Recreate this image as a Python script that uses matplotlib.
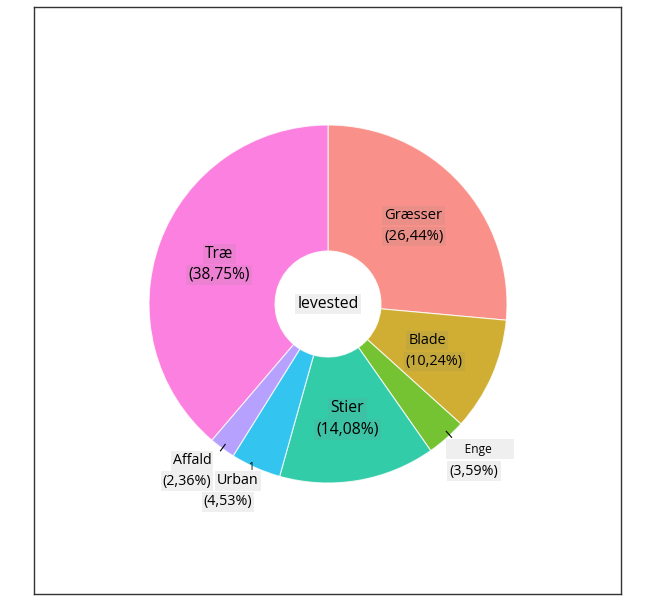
import numpy as np
import matplotlib
matplotlib.use("Agg")
import matplotlib.pyplot as plt

# habitat shares in percent, clockwise from 12 o'clock
categories = ["Græsser", "Blade", "Enge", "Stier", "Urban", "Affald", "Træ"]
shares = [26.44, 10.24, 3.59, 14.08, 4.53, 2.36, 38.75]
base_colors = ["#F8766D", "#C49A00", "#53B400", "#00C094", "#00B6EB", "#A58AFF", "#FB61D7"]
center_label = "levested"

plt.rcParams["font.family"] = ["Open Sans", "DejaVu Sans"]

W, H = 653, 605
fig = plt.figure(figsize=(W / 100, H / 100), dpi=100)
ax = fig.add_axes([34 / W, 11 / H, 587 / W, 587 / H])

cx, cy = 328, 301
R, r_in = 179, 53

wedges, _ = ax.pie(shares, colors=base_colors, startangle=90, counterclock=False,
                   radius=R, center=(cx, cy), frame=True,
                   wedgeprops=dict(width=R - r_in, edgecolor="white", linewidth=0.8, alpha=0.8))
ax.set_xlim(34, 621)
ax.set_ylim(11, 598)
ax.set_aspect("equal")
ax.set_xticks([])
ax.set_yticks([])
for s in ax.spines.values():
    s.set_color("#333333")
    s.set_linewidth(1.0)

box = dict(boxstyle="square,pad=0.15", facecolor="#808080", alpha=0.12, edgecolor="none")

# label sizes vary a bit in the original rendering
sizes = {"Græsser": 10.7, "Blade": 10.4, "Enge": 10.3, "Stier": 11.3,
         "Urban": 10.3, "Affald": 10.3, "Træ": 11.2}

# outside labels for the small slices, offset from centre in px
outside = {
    "Enge": (148, -156),
    "Affald": (-136, -167),
    "Urban": (-96, -187),
}

cum = np.cumsum([0] + shares)
for i, name in enumerate(categories):
    mid = np.deg2rad(90 - (cum[i] + cum[i + 1]) / 2 * 3.6)
    pct = "(" + f"{shares[i]:.2f}".replace(".", ",") + "%)"
    fs = sizes[name]
    if name in outside:
        dx, dy = outside[name]
        lx, ly = cx + dx, cy + dy
        if name == "Enge":
            ax.text(lx + 4, ly + 11, "     " + name + "      ", ha="center", va="center",
                    fontsize=8.6,
                    bbox=dict(boxstyle="square,pad=0.3", facecolor="#808080", alpha=0.12,
                              edgecolor="none"))
            ax.text(lx - 2, ly - 11, pct, ha="center", va="center", fontsize=fs, bbox=box)
        elif name == "Urban":
            ax.text(lx + 6, ly + 10, name, ha="center", va="center", fontsize=fs, bbox=box)
            ax.text(lx - 4, ly - 11, pct, ha="center", va="center", fontsize=fs, bbox=box)
            ax.text(cx - 77, cy - 163, "1", ha="center", va="center", fontsize=7)
        else:
            ax.text(lx, ly + 10, name, ha="center", va="center", fontsize=fs, bbox=box)
            ax.text(lx - 5, ly - 10, pct, ha="center", va="center", fontsize=fs, bbox=box)
        if name != "Urban":
            ux, uy = np.cos(mid), np.sin(mid)
            sx = 3 if name == "Enge" else 0
            sy = 3 if name == "Enge" else 0
            ax.plot([cx + (R - 5) * ux + sx, cx + (R + 3) * ux + sx],
                    [cy + (R - 5) * uy + sy, cy + (R + 3) * uy + sy], color="black", lw=0.8)
    else:
        rr = 116
        lx, ly = cx + rr * np.cos(mid), cy + rr * np.sin(mid)
        nx = lx - 7 if name == "Blade" else lx
        ax.text(nx, ly + 10, name, ha="center", va="center", fontsize=fs, bbox=box)
        ax.text(lx, ly - 11, pct, ha="center", va="center", fontsize=fs, bbox=box)

ax.text(cx, cy, center_label, ha="center", va="center", fontsize=11.3, bbox=box)

fig.savefig("out.png", dpi=100)
